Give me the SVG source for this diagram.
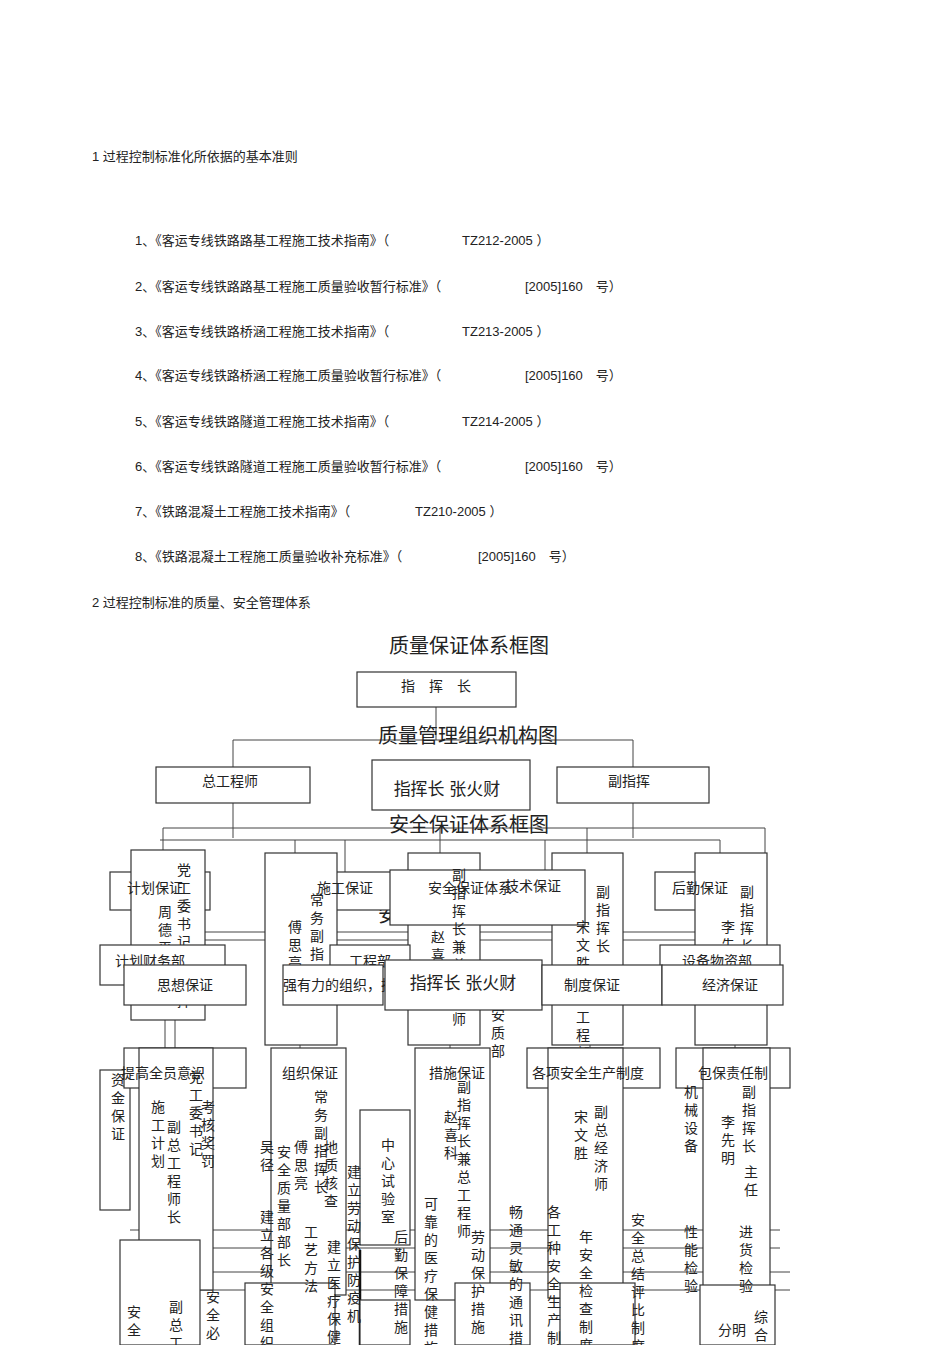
<svg xmlns="http://www.w3.org/2000/svg" width="950" height="1345" viewBox="0 0 950 1345">
<style>
text{font-family:"Liberation Sans","Noto Sans CJK SC",sans-serif;fill:#222}
.t{font-size:13px}
.h{font-size:20px;font-family:"Liberation Serif","Noto Sans CJK SC",serif;text-anchor:middle}
.b{font-size:14px;text-anchor:middle}
.v{font-size:14px;writing-mode:vertical-rl;letter-spacing:4px}
rect{fill:#fff;stroke:#333;stroke-width:1.2}
line,polyline{stroke:#444;stroke-width:1;fill:none}
.k{stroke:#111;stroke-width:2.5}
</style>
<g id="text-list">
<text class="t" x="92" y="161">1  过程控制标准化所依据的基本准则</text>
<text class="t" x="135" y="245">1、《客运专线铁路路基工程施工技术指南》（</text><text class="t" x="462" y="245">TZ212-2005 ）</text>
<text class="t" x="135" y="291">2、《客运专线铁路路基工程施工质量验收暂行标准》（</text><text class="t" x="525" y="291">[2005]160　号）</text>
<text class="t" x="135" y="336">3、《客运专线铁路桥涵工程施工技术指南》（</text><text class="t" x="462" y="336">TZ213-2005 ）</text>
<text class="t" x="135" y="380">4、《客运专线铁路桥涵工程施工质量验收暂行标准》（</text><text class="t" x="525" y="380">[2005]160　号）</text>
<text class="t" x="135" y="426">5、《客运专线铁路隧道工程施工技术指南》（</text><text class="t" x="462" y="426">TZ214-2005 ）</text>
<text class="t" x="135" y="471">6、《客运专线铁路隧道工程施工质量验收暂行标准》（</text><text class="t" x="525" y="471">[2005]160　号）</text>
<text class="t" x="135" y="516">7、《铁路混凝土工程施工技术指南》（</text><text class="t" x="415" y="516">TZ210-2005 ）</text>
<text class="t" x="135" y="561">8、《铁路混凝土工程施工质量验收补充标准》（</text><text class="t" x="478" y="561">[2005]160　号）</text>
<text class="t" x="92" y="607">2  过程控制标准的质量、安全管理体系</text>
</g>
<g id="connectors">
<line x1="436" y1="707" x2="436" y2="740"/>
<polyline points="233,767 233,740 633,740 633,767"/>
<line x1="233" y1="803" x2="233" y2="838"/><line x1="633" y1="803" x2="633" y2="838"/>
<polyline points="163,850 163,828 765,828 765,853"/>
<line x1="160" y1="840" x2="720" y2="840"/>
<line x1="295" y1="840" x2="295" y2="853"/><line x1="345" y1="840" x2="345" y2="872"/>
<line x1="440" y1="828" x2="440" y2="853"/><line x1="545" y1="840" x2="545" y2="870"/>
<line x1="587" y1="828" x2="587" y2="853"/><line x1="720" y1="840" x2="720" y2="853"/>
<line x1="190" y1="932" x2="740" y2="932"/><line x1="190" y1="940" x2="740" y2="940"/>
<line x1="140" y1="1290" x2="790" y2="1290"/><line x1="140" y1="1272" x2="790" y2="1272"/>
<line x1="130" y1="1230" x2="780" y2="1230"/><line x1="130" y1="1248" x2="780" y2="1248"/>
<line x1="165" y1="1020" x2="165" y2="1048"/><line x1="175" y1="1020" x2="175" y2="1048"/>
<line x1="300" y1="1045" x2="300" y2="1048"/><line x1="450" y1="1045" x2="450" y2="1300"/>
<line x1="590" y1="1045" x2="590" y2="1048"/><line x1="735" y1="1045" x2="735" y2="1048"/>
<line class="k" x1="360" y1="1250" x2="360" y2="1345"/><line class="k" x1="465" y1="1250" x2="465" y2="1345"/>
</g>
<g id="titles">
<text class="h" x="469" y="653">质量保证体系框图</text>
<text class="h" x="468" y="743">质量管理组织机构图</text>
<text class="h" x="469" y="832">安全保证体系框图</text>
<text class="h" x="468" y="922">安全管理组织机构图</text>
</g>
<g id="row1">
<rect x="357" y="672" width="159" height="35"/><text class="b" x="436" y="691">指　挥　长</text>
<rect x="156" y="767" width="154" height="36"/><text class="b" x="230" y="786">总工程师</text>
<rect x="372" y="760" width="158" height="50"/><text class="b" x="447" y="795" style="font-size:17px">指挥长  张火财</text>
<rect x="557" y="767" width="152" height="36"/><text class="b" x="629" y="786">副指挥</text>
</g>
<g id="row2">
<rect x="110" y="872" width="100" height="38"/>
<rect x="300" y="872" width="92" height="38"/>
<rect x="655" y="872" width="90" height="38"/>
<rect x="131" y="850" width="74" height="170"/>
<rect x="265" y="853" width="72" height="192"/>
<rect x="408" y="853" width="72" height="192"/>
<rect x="552" y="853" width="71" height="192"/>
<rect x="695" y="853" width="72" height="192"/>
<rect x="390" y="870" width="195" height="55"/>
<text class="b" x="155" y="893">计划保证</text><text class="b" x="345" y="893">施工保证</text>
<text class="b" x="470" y="893">安全保证体系</text><text class="b" x="533" y="891">技术保证</text>
<text class="b" x="700" y="893">后勤保证</text>
<text class="v" x="183" y="863">党工委书记</text><text class="v" x="164" y="905">周德平</text>
<text class="v" x="183" y="958">副指挥</text>
<text class="v" x="316" y="893">常务副指挥长</text><text class="v" x="294" y="920">傅思亮</text>
<text class="v" x="458" y="868">副指挥长兼总工程师</text><text class="v" x="437" y="930">赵喜科</text>
<text class="v" x="497" y="1008">安质部</text>
<text class="v" x="602" y="885">副指挥长</text><text class="v" x="582" y="920">宋文胜</text>
<text class="v" x="582" y="1010">工程部</text>
<text class="v" x="746" y="885">副指挥长</text><text class="v" x="727" y="920">李先梅</text>
</g>
<g id="row3">
<rect x="100" y="945" width="125" height="40"/><text class="b" x="150" y="966">计划财务部</text>
<rect x="330" y="945" width="80" height="40"/><text class="b" x="370" y="966">工程部</text>
<rect x="660" y="945" width="120" height="40"/><text class="b" x="717" y="966">设备物资部</text>
<rect x="124" y="965" width="122" height="40"/><text class="b" x="185" y="990">思想保证</text>
<rect x="283" y="965" width="100" height="40"/><text class="b" x="360" y="990">强有力的组织，措施保证</text>
<rect x="385" y="960" width="157" height="50"/><text class="b" x="463" y="989" style="font-size:17px">指挥长  张火财</text>
<rect x="542" y="965" width="120" height="40"/><text class="b" x="592" y="990">制度保证</text>
<rect x="662" y="965" width="121" height="40"/><text class="b" x="730" y="990">经济保证</text>
</g>
<g id="row4">
<rect x="100" y="1070" width="30" height="140"/>
<rect x="124" y="1048" width="122" height="40"/>
<rect x="139" y="1048" width="74" height="242"/>
<rect x="271" y="1048" width="75" height="247"/>
<rect x="415" y="1048" width="75" height="252"/>
<rect x="527" y="1048" width="133" height="40"/>
<rect x="548" y="1048" width="75" height="250"/>
<rect x="676" y="1048" width="114" height="40"/>
<rect x="703" y="1048" width="67" height="247"/>
<rect x="360" y="1110" width="50" height="135"/>
<rect x="120" y="1240" width="80" height="105"/>
<rect x="245" y="1283" width="90" height="62"/>
<rect x="360" y="1300" width="50" height="45"/>
<rect x="455" y="1283" width="75" height="62"/>
<rect x="560" y="1283" width="75" height="62"/>
<rect x="700" y="1285" width="75" height="60"/>
<text class="b" x="163" y="1078">提高全员意识</text><text class="b" x="310" y="1078">组织保证</text>
<text class="b" x="457" y="1078">措施保证</text><text class="b" x="588" y="1078">各项安全生产制度</text>
<text class="b" x="733" y="1078">包保责任制</text>
<text class="v" x="117" y="1073">资金保证</text>
<text class="v" x="157" y="1100">施工计划</text><text class="v" x="195" y="1070">党工委书记</text>
<text class="v" x="207" y="1100">考核奖罚</text>
<text class="v" x="173" y="1120">副总工程师长</text>
<text class="v" x="320" y="1090">常务副指挥长</text><text class="v" x="300" y="1140">傅思亮</text>
<text class="v" x="283" y="1145">安全质量部部长</text><text class="v" x="330" y="1140">地质核查</text>
<text class="v" x="266" y="1140">吴径</text><text class="v" x="266" y="1210">建立各级安全组织</text>
<text class="v" x="310" y="1225">工艺方法</text><text class="v" x="333" y="1240">建立医疗保健机构</text>
<text class="v" x="353" y="1165">建立劳动保护防疫机</text>
<text class="v" x="387" y="1138">中心试验室</text><text class="v" x="400" y="1230">后勤保障措施</text>
<text class="v" x="463" y="1080">副指挥长兼总工程师</text><text class="v" x="450" y="1110">赵喜科</text>
<text class="v" x="430" y="1197">可靠的医疗保健措施</text>
<text class="v" x="477" y="1230">劳动保护措施</text>
<text class="v" x="515" y="1205">畅通灵敏的通讯措施</text>
<text class="v" x="553" y="1205">各工种安全生产制度</text>
<text class="v" x="600" y="1105">副总经济师</text><text class="v" x="580" y="1110">宋文胜</text>
<text class="v" x="585" y="1230">年安全检查制度</text>
<text class="v" x="637" y="1213">安全总结评比制度</text>
<text class="v" x="690" y="1085">机械设备</text><text class="v" x="690" y="1225">性能检验</text>
<text class="v" x="748" y="1085">副指挥长</text><text class="v" x="727" y="1115">李先明</text>
<text class="v" x="750" y="1165">主任</text><text class="v" x="745" y="1225">进货检验</text>
<text class="v" x="175" y="1300">副总工</text><text class="v" x="212" y="1290">安全必</text>
<text class="v" x="133" y="1305">安全</text>
<text class="v" x="760" y="1310">综合</text><text class="b" x="732" y="1335">分明</text>
</g>
</svg>
